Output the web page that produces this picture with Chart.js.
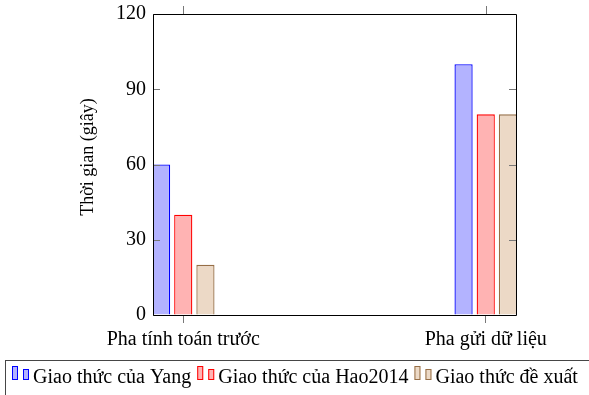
<!DOCTYPE html>
<html>
<head>
<meta charset="utf-8">
<script src="https://cdn.jsdelivr.net/npm/chart.js@4"></script>
<style>
  html, body { margin: 0; padding: 0; background: #fff; }
  #wrap { width: 589px; height: 395px; }
</style>
</head>
<body>
<div id="wrap"><canvas id="chart" width="589" height="395"></canvas></div>
<script>
"use strict";

const categories = ["Pha tính toán trước", "Pha gửi dữ liệu"];
const seriesNames = ["Giao thức của Yang", "Giao thức của Hao2014", "Giao thức đề xuất"];
const yangValues = [60, 100];
const haoValues = [40, 80];
const proposedValues = [20, 80];
const yTicks = [0, 30, 60, 90, 120];
const yTitle = "Thời gian (giây)";

const FONT = "'Liberation Serif', 'Times New Roman', serif";
const fills = ["rgb(179,179,255)", "rgb(255,179,179)", "rgb(236,217,198)"];
const borders = ["rgb(0,0,255)", "rgb(255,0,0)", "rgb(150,110,70)"];

function toPoints(values) {
    return values.map((v, i) => ({ x: i + 1, y: v }));
}

const seriesValues = [yangValues, haoValues, proposedValues];

// frame, inward y ticks, top x ticks, y title and legend box
const decorations = {
    id: "decorations",
    afterDraw(chart) {
        const ctx = chart.ctx;
        const a = chart.chartArea;
        const xs = chart.scales.x, ys = chart.scales.y;
        ctx.save();

        // ticks
        ctx.strokeStyle = "rgb(120,120,120)";
        ctx.lineWidth = 1;
        ctx.beginPath();
        yTicks.forEach(t => {
            const py = Math.round(ys.getPixelForValue(t)) + 0.5;
            ctx.moveTo(a.left, py); ctx.lineTo(a.left + 7, py);
            ctx.moveTo(a.right, py); ctx.lineTo(a.right - 7, py);
        });
        categories.forEach((c, i) => {
            const px = Math.round(xs.getPixelForValue(i + 1)) + 0.5;
            ctx.moveTo(px, a.top); ctx.lineTo(px, a.top - 8);
        });
        ctx.stroke();

        // frame
        ctx.strokeStyle = "#000";
        ctx.beginPath();
        ctx.rect(Math.round(a.left) + 0.5, Math.round(a.top) + 0.5,
                 Math.round(a.right - a.left), Math.round(a.bottom - a.top));
        ctx.stroke();

        // y title
        ctx.fillStyle = "#000";
        ctx.font = "18px " + FONT;
        ctx.translate(88, 157);
        ctx.rotate(-Math.PI / 2);
        ctx.textAlign = "center";
        ctx.textBaseline = "middle";
        ctx.fillText(yTitle, 0, 0);
        ctx.restore();

        // legend
        ctx.save();
        ctx.strokeStyle = "rgb(70,70,70)";
        ctx.lineWidth = 1;
        ctx.strokeRect(5.5, 360.5, 620, 60);
        ctx.font = "20px " + FONT;
        ctx.textBaseline = "alphabetic";
        ctx.fillStyle = "#000";
        let x = 12;
        chart.data.datasets.forEach(ds => {
            ctx.fillStyle = ds.backgroundColor;
            ctx.strokeStyle = ds.borderColor;
            ctx.fillRect(x, 366, 6, 14);
            ctx.strokeRect(x + 0.5, 366.5, 5, 13);
            ctx.fillRect(x + 11, 369, 6, 11);
            ctx.strokeRect(x + 11.5, 369.5, 5, 10);
            ctx.fillStyle = "#000";
            ctx.fillText(ds.label, x + 21, 383);
            x += 21 + ctx.measureText(ds.label).width + 6;
        });
        ctx.restore();
    }
};

new Chart(document.getElementById("chart"), {
    type: "bar",
    data: {
        datasets: seriesNames.map((name, i) => ({
            label: name,
            data: toPoints(seriesValues[i]),
            backgroundColor: fills[i],
            borderColor: borders[i],
            borderWidth: 1.3,
            categoryPercentage: 0.22,
            barPercentage: 0.82
        }))
    },
    options: {
        responsive: false,
        animation: false,
        layout: { padding: { left: 0, right: 73, top: 14, bottom: 0 } },
        plugins: { legend: { display: false }, tooltip: { enabled: false } },
        scales: {
            x: {
                type: "linear",
                min: 0.9,
                max: 2.1,
                offset: false,
                afterBuildTicks: s => { s.ticks = categories.map((c, i) => ({ value: i + 1 })); },
                afterFit: s => { s.height = 80; s.paddingLeft = 0; s.paddingRight = 0; },
                grid: { offset: false, drawOnChartArea: false, drawTicks: true, tickLength: 8, color: "rgb(120,120,120)" },
                border: { display: false },
                ticks: {
                    color: "#000",
                    padding: 5,
                    maxRotation: 0,
                    autoSkip: false,
                    font: { family: FONT, size: 20 },
                    callback: v => categories[v - 1]
                }
            },
            y: {
                min: 0,
                max: 120,
                afterBuildTicks: s => { s.ticks = yTicks.map(v => ({ value: v })); },
                afterFit: s => { s.width = 153; s.paddingTop = 0; s.paddingBottom = 0; },
                grid: { drawOnChartArea: false, drawTicks: false },
                border: { display: false },
                ticks: {
                    color: "#000",
                    padding: 7,
                    font: { family: FONT, size: 20 }
                }
            }
        }
    },
    plugins: [decorations]
});
</script>
</body>
</html>
